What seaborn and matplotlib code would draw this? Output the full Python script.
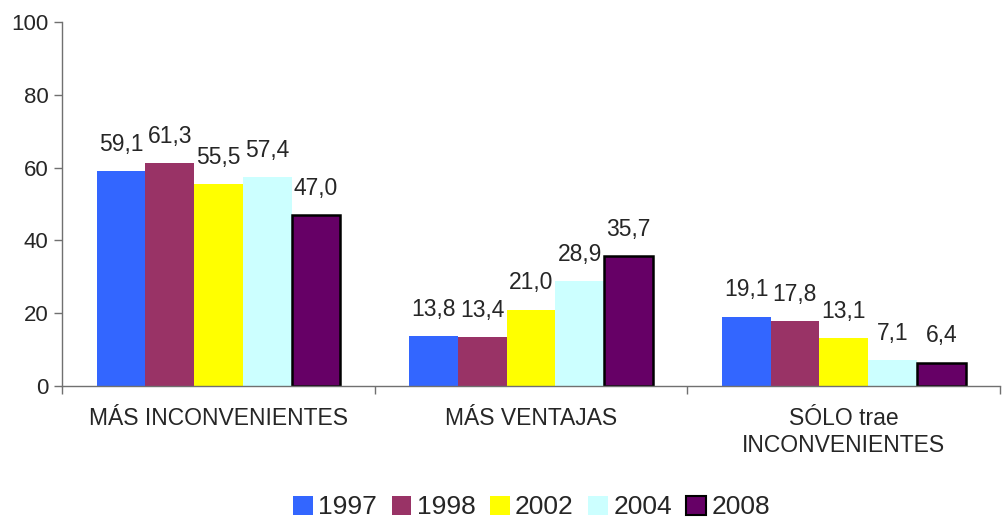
import matplotlib
matplotlib.use("Agg")
import matplotlib.pyplot as plt
import seaborn as sns
import pandas as pd
from matplotlib.patches import Patch
from matplotlib.ticker import FixedLocator

categories = ["MÁS INCONVENIENTES", "MÁS VENTAJAS", "SÓLO trae\nINCONVENIENTES"]
years = ["1997", "1998", "2002", "2004", "2008"]
v1997 = [59.1, 13.8, 19.1]
v1998 = [61.3, 13.4, 17.8]
v2002 = [55.5, 21.0, 13.1]
v2004 = [57.4, 28.9, 7.1]
v2008 = [47.0, 35.7, 6.4]
colors = ["#3366FF", "#993366", "#FFFF00", "#CCFFFF", "#660066"]

rows = []
for y, vals in zip(years, [v1997, v1998, v2002, v2004, v2008]):
    for c, v in zip(categories, vals):
        rows.append({"cat": c, "year": y, "val": v})
df = pd.DataFrame(rows)

sns.set_style("white")
plt.rcParams["font.family"] = ["Liberation Sans", "DejaVu Sans"]

fig = plt.figure(figsize=(10.03, 5.21), dpi=100)
ax = fig.add_axes([0.062, 0.259, 0.935, 0.699])

sns.barplot(data=df, x="cat", y="val", hue="year", palette=colors,
            order=categories, hue_order=years, width=0.78, saturation=1,
            ax=ax, legend=False, edgecolor="none", linewidth=0)

for i, cont in enumerate(ax.containers):
    for bar in cont:
        if i == 4:
            bar.set_edgecolor("black")
            bar.set_linewidth(1.8)
    ax.bar_label(cont, labels=[f"{v:.1f}".replace(".", ",") for v in cont.datavalues],
                 padding=11, fontsize=16.5)

ax.set_ylim(0, 100)
ax.set_xlim(-0.5, 2.5)
ax.set_yticks([0, 20, 40, 60, 80, 100])
ax.tick_params(axis="y", labelsize=16, length=6, width=1, direction="out", left=True, color="#707070", pad=4)
ax.tick_params(axis="x", which="major", labelsize=16.5, length=0, pad=15)
for lbl in ax.get_xticklabels():
    lbl.set_linespacing(1.25)
ax.xaxis.set_minor_locator(FixedLocator([-0.5, 0.5, 1.5, 2.5]))
ax.tick_params(axis="x", which="minor", length=6, width=1, bottom=True, color="#707070")
ax.set_xlabel("")
ax.set_ylabel("")
for s in ["top", "right"]:
    ax.spines[s].set_visible(False)
for s in ["left", "bottom"]:
    ax.spines[s].set_color("#707070")
    ax.spines[s].set_linewidth(1)

handles = []
for i, (y, c) in enumerate(zip(years, colors)):
    if i == 4:
        handles.append(Patch(facecolor=c, edgecolor="black", linewidth=1.5, label=y))
    else:
        handles.append(Patch(facecolor=c, edgecolor="none", label=y))
fig.legend(handles=handles, loc="center", bbox_to_anchor=(0.53, 0.026), ncol=5,
           frameon=False, fontsize=19, handlelength=0.75, handleheight=0.75,
           handletextpad=0.2, columnspacing=0.55)

fig.savefig("out.png", dpi=100)
